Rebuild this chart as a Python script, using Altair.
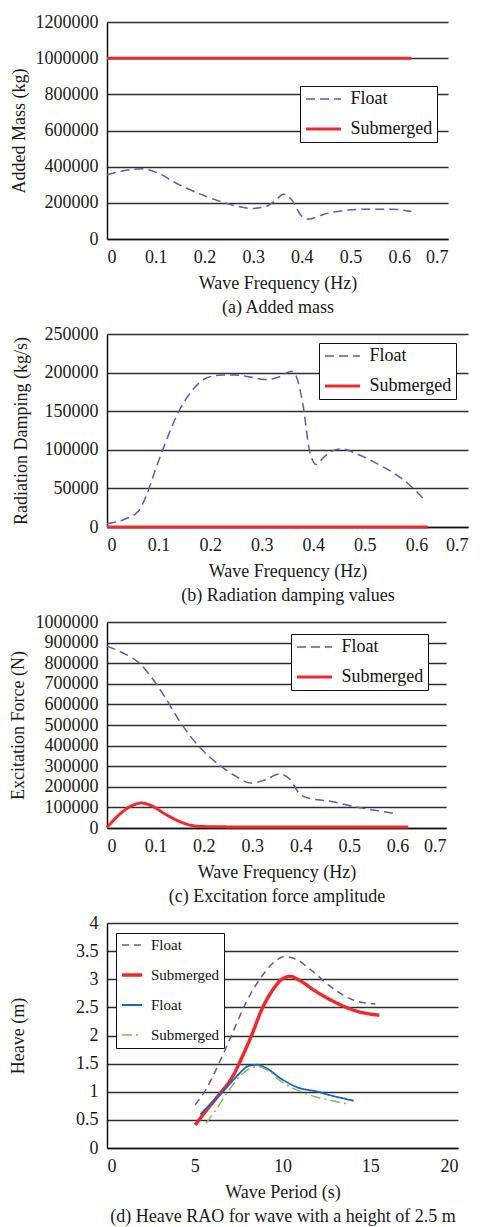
import altair as alt
import pandas as pd

FONT = "Liberation Serif"
PURPLE = "#6656b8"
RED = "#ee2a2f"
BLUE = "#1565c0"
GREEN = "#8db35a"

# ---------- (a) Added mass ----------
a_float_x = [0, 0.03, 0.07, 0.1, 0.146, 0.2, 0.256, 0.297, 0.324, 0.345, 0.362, 0.379, 0.399, 0.413, 0.447, 0.495, 0.543, 0.584, 0.625]
a_float_y = [355000, 375000, 388000, 370000, 303000, 239000, 189000, 169000, 178000, 211000, 248000, 217000, 129000, 110000, 138000, 160000, 165000, 165000, 152000]
a_sub_x = [0, 0.625]
a_sub_y = [1000000, 1000000]

# ---------- (b) Radiation damping ----------
b_float_x = [0, 0.035, 0.061, 0.077, 0.093, 0.112, 0.138, 0.164, 0.19, 0.216, 0.248, 0.28, 0.306, 0.332, 0.358, 0.367, 0.38, 0.393, 0.406, 0.419, 0.435, 0.455, 0.487, 0.532, 0.578, 0.618]
b_float_y = [4300, 10300, 20700, 42000, 72400, 107000, 148000, 176000, 192000, 196500, 197000, 194000, 191000, 194000, 201700, 195000, 158600, 98000, 81000, 89600, 98000, 101000, 94000, 79000, 59500, 33600]
b_sub_x = [0, 0.622]
b_sub_y = [0, 0]

# ---------- (c) Excitation force ----------
c_float_x = [0, 0.03, 0.065, 0.092, 0.12, 0.147, 0.174, 0.195, 0.229, 0.264, 0.298, 0.326, 0.357, 0.377, 0.398, 0.415, 0.463, 0.511, 0.559, 0.6]
c_float_y = [883000, 853000, 804000, 731000, 634000, 529000, 440000, 383000, 311000, 254000, 218000, 233000, 262000, 238000, 165000, 146000, 129000, 103600, 84000, 68000]
c_sub_x = [0, 0.023, 0.051, 0.071, 0.092, 0.12, 0.154, 0.188, 0.223, 0.3, 0.4, 0.5, 0.622]
c_sub_y = [3000, 60000, 108000, 121000, 108000, 68000, 27500, 8000, 6000, 5000, 5000, 5000, 5000]

# ---------- (d) Heave RAO ----------
d_f1_x = [5.03, 5.6, 6.36, 7.12, 7.88, 8.64, 9.4, 10.12, 10.73, 11.68, 12.82, 13.96, 15.29]
d_f1_y = [0.77, 1.02, 1.49, 2.02, 2.56, 2.97, 3.27, 3.40, 3.36, 3.15, 2.85, 2.64, 2.56]
d_s1_x = [5.03, 5.79, 6.55, 7.12, 7.69, 8.26, 8.83, 9.4, 9.97, 10.45, 10.92, 11.87, 13.01, 14.15, 15.52]
d_s1_y = [0.41, 0.72, 1.01, 1.25, 1.61, 2.02, 2.47, 2.79, 3.0, 3.05, 2.99, 2.79, 2.59, 2.44, 2.36]
d_f2_x = [5.32, 5.98, 6.74, 7.5, 8.07, 8.55, 9.02, 9.97, 10.92, 11.87, 12.82, 14.06]
d_f2_y = [0.60, 0.81, 1.05, 1.31, 1.46, 1.48, 1.43, 1.22, 1.07, 1.01, 0.93, 0.84]
d_s2_x = [5.64, 6.17, 6.93, 7.69, 8.26, 8.64, 9.21, 9.97, 10.92, 11.87, 12.82, 13.77]
d_s2_y = [0.44, 0.66, 1.02, 1.31, 1.43, 1.45, 1.37, 1.17, 1.02, 0.91, 0.84, 0.78]

freq_ticks = [0, 0.1, 0.2, 0.3, 0.4, 0.5, 0.6, 0.7]


def long_df(series):
    rows = []
    for name, xs, ys in series:
        for x, y in zip(xs, ys):
            rows.append({"x": x, "y": y, "s": name})
    return pd.DataFrame(rows)


def panel(df, names, colors, dashes, widths, xdom, xticks, xfmt, ydom, yticks, yfmt,
          ytitle, ytitle_pad, xtitle, caption, w, h, lx, ly, lfont, root, lrow, lpad,
          soff, loff):
    legend = alt.Legend(
        orient="none", legendX=lx, legendY=ly, title=None,
        symbolType="M-4,0H4", symbolSize=root * root,
        symbolOffset=soff, labelOffset=loff,
        labelFont=FONT, labelFontSize=lfont, labelColor="#111111",
        strokeColor="#111111", fillColor="white", padding=lpad,
        rowPadding=lrow, labelLimit=300,
    )
    return alt.Chart(df).mark_line(interpolate="monotone").encode(
        x=alt.X("x:Q", scale=alt.Scale(domain=xdom, nice=False, zero=False),
                axis=alt.Axis(values=xticks, format=xfmt, title=[xtitle, caption],
                              titleLineHeight=24, labelPadding=9, titlePadding=8,
                              grid=False)),
        y=alt.Y("y:Q", scale=alt.Scale(domain=ydom, nice=False),
                axis=alt.Axis(values=yticks, format=yfmt, title=ytitle,
                              titlePadding=ytitle_pad, labelPadding=9, grid=True)),
        color=alt.Color("s:N", scale=alt.Scale(domain=names, range=colors), legend=legend),
        strokeDash=alt.StrokeDash("s:N", scale=alt.Scale(domain=names, range=dashes), legend=legend),
        strokeWidth=alt.StrokeWidth("s:N", scale=alt.Scale(type="ordinal", domain=names, range=widths),
                                    legend=legend),
    ).properties(width=w, height=h)


two = ["Float", "Submerged"]

pa = panel(long_df([("Float", a_float_x, a_float_y), ("Submerged", a_sub_x, a_sub_y)]),
           two, [PURPLE, RED], [[9, 5], [1, 0]], [1.5, 3],
           [0, 0.7], freq_ticks, ".1~f", [0, 1200000], list(range(0, 1200001, 200000)), "d",
           "Added Mass (kg)", 7, "Wave Frequency (Hz)", "(a) Added mass",
           341, 217, 193, 64, 18, 8.75, 12, 4, 10.5, 18)

pb = panel(long_df([("Float", b_float_x, b_float_y), ("Submerged", b_sub_x, b_sub_y)]),
           two, [PURPLE, RED], [[9, 5], [1, 0]], [1.5, 3],
           [0, 0.7], freq_ticks, ".1~f", [0, 250000], list(range(0, 250001, 50000)), "d",
           "Radiation Damping (kg/s)", 14, "Wave Frequency (Hz)", "(b) Radiation damping values",
           361, 193, 212, 9, 18, 8.75, 12, 4, 10.5, 18)

pc = panel(long_df([("Float", c_float_x, c_float_y), ("Submerged", c_sub_x, c_sub_y)]),
           two, [PURPLE, RED], [[9, 5], [1, 0]], [1.5, 3],
           [0, 0.7], freq_ticks, ".1~f", [0, 1000000], list(range(0, 1000001, 100000)), "d",
           "Excitation Force (N)", 8, "Wave Frequency (Hz)", "(c) Excitation force amplitude",
           339, 206, 184, 12, 18, 8.75, 12, 4, 10.5, 18)

four = ["Float", "Submerged", "Float ", "Submerged "]
pd_ = panel(long_df([("Float", d_f1_x, d_f1_y), ("Submerged", d_s1_x, d_s1_y),
                     ("Float ", d_f2_x, d_f2_y), ("Submerged ", d_s2_x, d_s2_y)]),
            four, [PURPLE, RED, BLUE, GREEN], [[7, 5], [1, 0], [1, 0], [10, 4, 2, 4]], [1.5, 3.5, 1.8, 1.5],
            [0, 20], [0, 5, 10, 15, 20], "d", [0, 4], [0, 0.5, 1, 1.5, 2, 2.5, 3, 3.5, 4], "~g",
            "Heave (m)", 48, "Wave Period (s)", "(d) Heave RAO for wave with a height of 2.5 m",
            351, 225, 9, 10, 15, 5, 14, 4.5, 4, 11.5)

chart = alt.vconcat(pa, pb, pc, pd_, spacing=95, bounds="flush").resolve_scale(
    color="independent", strokeDash="independent", strokeWidth="independent"
).resolve_legend(
    color="independent", strokeDash="independent", strokeWidth="independent"
).properties(
    padding={"left": 8, "top": 12, "right": 0, "bottom": 0},
    background="white",
).configure_axis(
    labelFont=FONT, labelFontSize=18, labelColor="#1a1a1a",
    titleFont=FONT, titleFontSize=18, titleFontWeight="normal", titleColor="#1a1a1a",
    domainColor="#111111", domainWidth=1.5, ticks=False, tickSize=0,
    gridColor="#2e2e2e", gridWidth=1.5,
).configure_view(stroke="transparent")

chart.save("out.html", embed_options={"renderer": "svg", "actions": False})
